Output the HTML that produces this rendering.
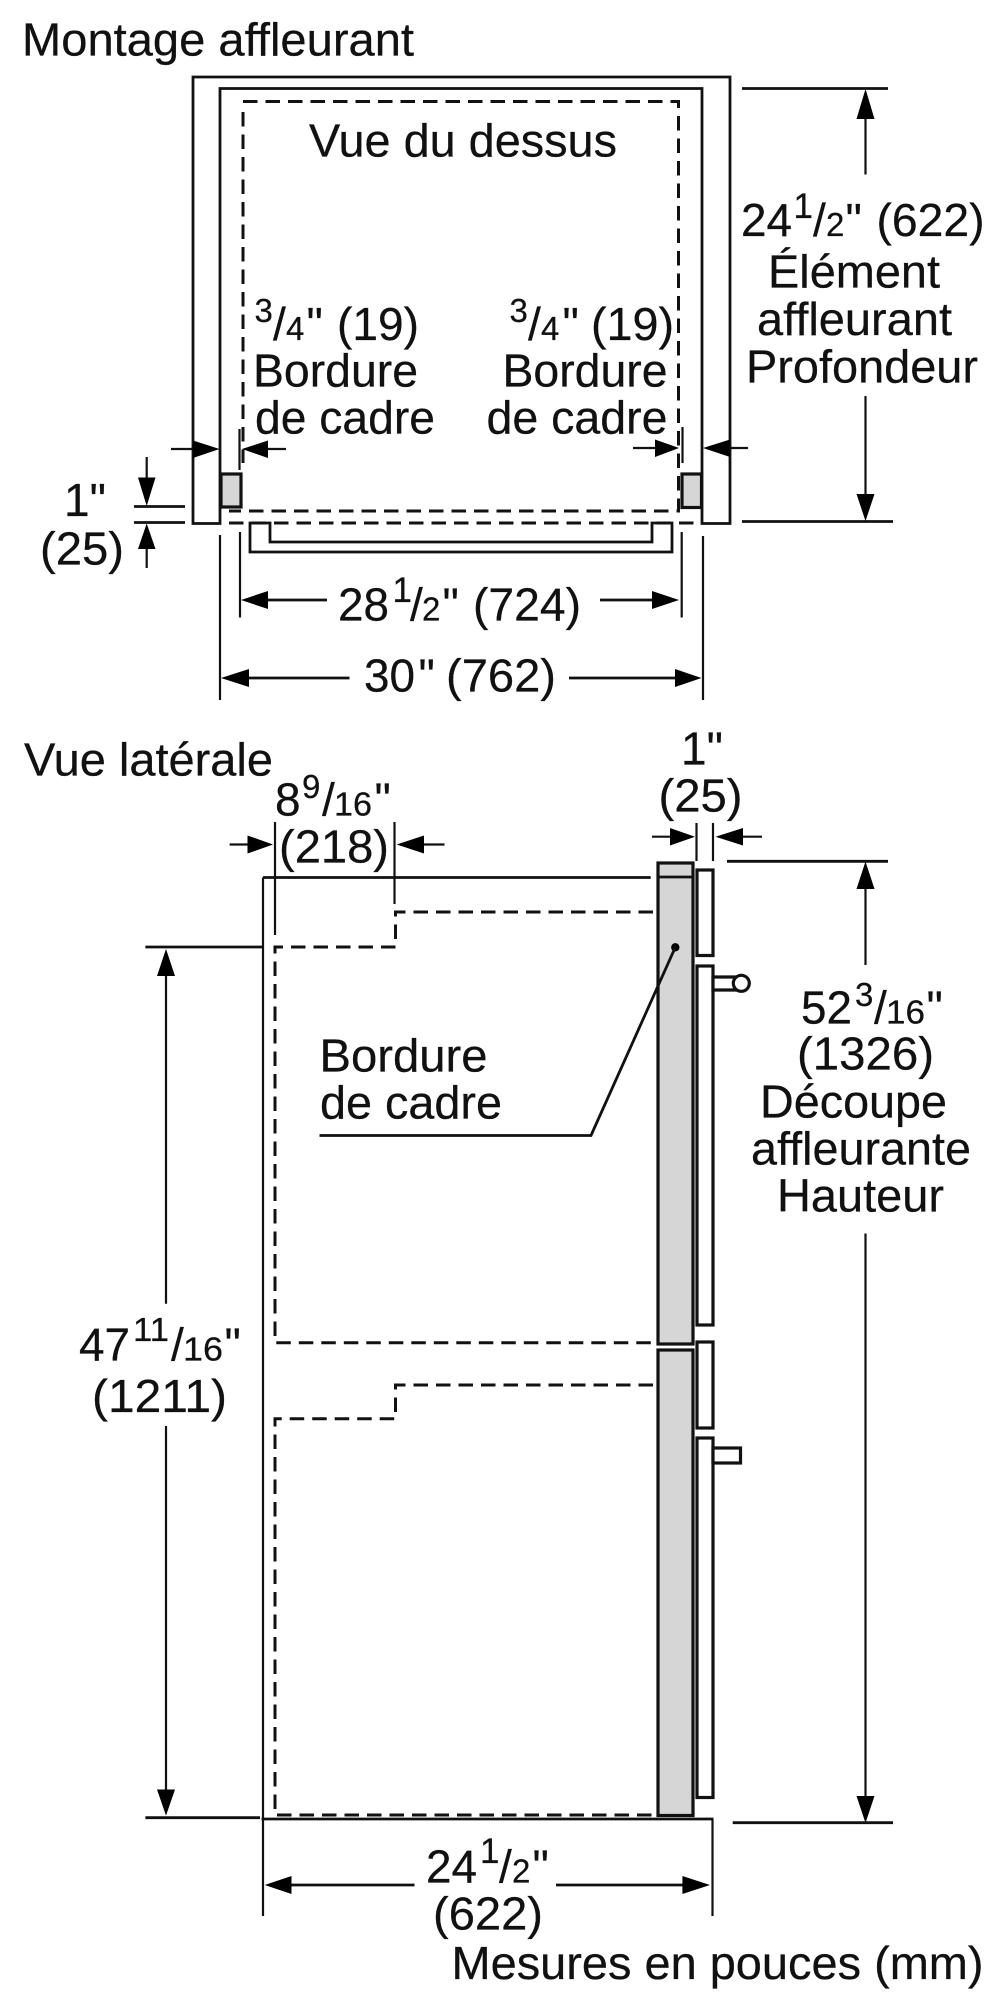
<!DOCTYPE html>
<html lang="fr">
<head>
<meta charset="utf-8">
<title>Montage affleurant</title>
<style>
html,body{margin:0;padding:0;background:#fff;width:1000px;height:2000px;overflow:hidden}
svg{display:block}
text{font-family:"Liberation Sans",sans-serif;font-size:46px;fill:#111;stroke:#111;stroke-width:.25}
text.s{font-size:33px}
text.o{font-size:35px}
text.b{font-size:33px}
.l{fill:none;stroke:#111;stroke-width:2.8}
.t{fill:none;stroke:#111;stroke-width:2.2}
.d{fill:none;stroke:#111;stroke-width:3;stroke-dasharray:14.5 8}
.g{fill:#d6d6d6;stroke:#111;stroke-width:3.2}
.w{fill:#fff;stroke:#111;stroke-width:3.2}
polygon{fill:#000}
</style>
</head>
<body>
<svg width="1000" height="2000" viewBox="0 0 1000 2000" xmlns="http://www.w3.org/2000/svg">
<!-- TOP VIEW -->
<path class="l" d="M193 523.5V77H730V523.5H702V88.5H220V523.5Z"/>
<path class="d" d="M243 101.5H678.5V511H229"/>
<path class="d" d="M243 112V463"/>
<path class="d" d="M229 523H696"/>
<rect class="g" x="221" y="474" width="20" height="33"/>
<rect class="g" x="682" y="474" width="19.5" height="33.5"/>
<path class="l" d="M250 523H270V542H652V523H672V552H250Z"/>

<!-- right depth dim -->
<path class="l" d="M742 88.5H888M742 521.5H893"/>
<path class="t" d="M865.5 100V174.5M865.5 396V510"/>
<polygon points="865.5,89 856.5,119 874.5,119"/>
<polygon points="865.5,521 856.5,494 874.5,494"/>

<!-- 1" left dim -->
<path class="l" d="M134 506.5H185M134 522.5H185"/>
<path class="t" d="M146.7 457V490M146.7 540V568"/>
<polygon points="146.7,506 138,477.5 155.5,477.5"/>
<polygon points="146.7,523.5 138,549 155.5,549"/>

<!-- arrows at 449 -->
<path class="t" d="M171 449H200M260 449H286M633 448H665M720 448H748"/>
<polygon points="219.5,449 193,440.5 193,458"/>
<polygon points="242,449 268,440.5 268,458"/>
<polygon points="679,448 655,439.5 655,457"/>
<polygon points="703,448 730,439.5 730,457"/>
<path class="t" d="M239.5 429V470M682.5 427V463"/>

<!-- extension lines below -->
<path class="t" d="M220 535V700M240 532V617.5M681.7 532V617.5M703 536V700"/>
<path class="l" d="M255 600H327M600 600H665M235 678H349.5M569 678H688"/>
<polygon points="241,600 268,591 268,609"/>
<polygon points="679,600 652,591 652,609"/>
<polygon points="221,678 249,669 249,687"/>
<polygon points="701.5,678 675,669 675,687"/>

<!-- SIDE VIEW -->
<path class="l" d="M263 877.5H650.7"/>
<path class="t" d="M263 877.5V1916M712.5 1819V1916"/>
<path class="l" d="M261.5 1819H713.5"/>
<path class="t" d="M275 822V935M394.5 822V904"/>
<path class="d" d="M653 912H395.5V947H275V1342.7H657"/>
<path class="d" d="M653 1385H395.5V1418.7H275V1815H657"/>

<rect class="g" x="658" y="863" width="35" height="481"/>
<path class="l" d="M658 877H693"/>
<rect class="g" x="658" y="1350" width="35" height="465.5"/>
<rect class="w" x="697" y="870" width="16" height="85.5"/>
<rect class="w" x="697" y="966" width="16" height="359"/>
<rect class="w" x="697" y="1342" width="16" height="86"/>
<rect class="w" x="697" y="1438" width="16" height="359.5"/>
<path class="w" d="M713 977H740V990H713Z"/>
<circle class="w" cx="741.3" cy="983.3" r="8"/>
<rect class="w" x="713" y="1448" width="27.5" height="15"/>

<!-- leader -->
<circle cx="675.3" cy="947.3" r="4.2" fill="#000"/>
<path class="l" d="M675.3 947.3L591 1135.5H319.5"/>

<!-- 8 9/16 -->
<path class="t" d="M229.6 844.5H255M410 844.5H444.5M652 836.7H680M730 836.7H762"/>
<polygon points="273,844.5 247.5,835.5 247.5,853.5"/>
<polygon points="396.7,844.5 424,835.5 424,853.5"/>
<polygon points="695,836.7 670,828 670,845.5"/>
<polygon points="715.5,836.7 743,828 743,845.5"/>
<path class="t" d="M696.5 823V861M713 823V861"/>

<!-- height dims -->
<path class="l" d="M727 861.3H888M732.7 1822.7H893M145.4 947H263M145.4 1817.7H260"/>
<path class="t" d="M865.5 875V965M865.5 1233.5V1805M166 960V1303.7M166 1426V1800"/>
<polygon points="865.5,861.5 856.5,889 874.5,889"/>
<polygon points="865.5,1823 856.5,1796 874.5,1796"/>
<polygon points="166,949 157,976 175,976"/>
<polygon points="166,1815.6 157,1789.5 175,1789.5"/>

<!-- bottom dim -->
<path class="l" d="M280 1885H414.5M556 1885H695"/>
<polygon points="264.7,1885 291.5,1876 291.5,1894"/>
<polygon points="710,1885 682.4,1876 682.4,1894"/>

<!-- TEXT top -->
<text x="22" y="55.5" textLength="392" lengthAdjust="spacingAndGlyphs">Montage affleurant</text>
<text x="309" y="156.5" textLength="308" lengthAdjust="spacingAndGlyphs">Vue du dessus</text>
<text x="741" y="236" textLength="51" lengthAdjust="spacingAndGlyphs">24</text>
<text class="o" x="793.5" y="218">1</text>
<text x="813" y="236">/</text>
<text class="b" x="826" y="236">2</text>
<text x="845.5" y="236">"</text>
<text x="876.5" y="236" textLength="108" lengthAdjust="spacingAndGlyphs">(622)</text>
<text x="768" y="287.5" textLength="172" lengthAdjust="spacingAndGlyphs">Élément</text>
<text x="757" y="335" textLength="195" lengthAdjust="spacingAndGlyphs">affleurant</text>
<text x="746" y="382.5" textLength="232" lengthAdjust="spacingAndGlyphs">Profondeur</text>

<text class="s" x="254.5" y="322">3</text>
<text x="273" y="340">/</text>
<text class="b" x="286" y="340">4</text>
<text x="306.5" y="340">"</text>
<text x="337" y="340" textLength="82" lengthAdjust="spacingAndGlyphs">(19)</text>
<text x="253" y="386.5" textLength="165" lengthAdjust="spacingAndGlyphs">Bordure</text>
<text x="255" y="433.5" textLength="180" lengthAdjust="spacingAndGlyphs">de cadre</text>

<text class="s" x="509.5" y="322">3</text>
<text x="528" y="340">/</text>
<text class="b" x="541" y="340">4</text>
<text x="562.5" y="340">"</text>
<text x="591" y="340" textLength="83" lengthAdjust="spacingAndGlyphs">(19)</text>
<text x="502.5" y="386.5" textLength="165" lengthAdjust="spacingAndGlyphs">Bordure</text>
<text x="486.5" y="433.5" textLength="181" lengthAdjust="spacingAndGlyphs">de cadre</text>

<text x="64" y="516">1"</text>
<text x="40" y="564.5" textLength="84" lengthAdjust="spacingAndGlyphs">(25)</text>

<text x="338" y="620.5" textLength="51" lengthAdjust="spacingAndGlyphs">28</text>
<text class="o" x="392.5" y="602">1</text>
<text x="410" y="620.5">/</text>
<text class="b" x="422" y="620.5">2</text>
<text x="442.5" y="620.5">"</text>
<text x="473" y="620.5" textLength="108" lengthAdjust="spacingAndGlyphs">(724)</text>

<text x="364" y="691.5" textLength="51" lengthAdjust="spacingAndGlyphs">30</text>
<text x="418.5" y="691.5">"</text>
<text x="446" y="691.5" textLength="110" lengthAdjust="spacingAndGlyphs">(762)</text>

<!-- TEXT side -->
<text x="24" y="775.5" textLength="249" lengthAdjust="spacingAndGlyphs">Vue latérale</text>
<text x="275" y="815.5">8</text>
<text class="s" x="302" y="798">9</text>
<text x="322" y="815.5">/</text>
<text class="b" x="334" y="815.5" textLength="38" lengthAdjust="spacingAndGlyphs">16</text>
<text x="374.5" y="815.5">"</text>
<text x="279" y="862.5" textLength="110" lengthAdjust="spacingAndGlyphs">(218)</text>

<text x="681" y="764.5">1"</text>
<text x="658.5" y="811.5" textLength="84" lengthAdjust="spacingAndGlyphs">(25)</text>

<text x="801" y="1023.5" textLength="51" lengthAdjust="spacingAndGlyphs">52</text>
<text class="s" x="855" y="1006">3</text>
<text x="874" y="1023.5">/</text>
<text class="b" x="886" y="1023.5" textLength="39" lengthAdjust="spacingAndGlyphs">16</text>
<text x="926.5" y="1023.5">"</text>
<text x="797" y="1069.5" textLength="137" lengthAdjust="spacingAndGlyphs">(1326)</text>
<text x="760" y="1117.5" textLength="187" lengthAdjust="spacingAndGlyphs">Découpe</text>
<text x="751" y="1164.5" textLength="220" lengthAdjust="spacingAndGlyphs">affleurante</text>
<text x="777" y="1211.5" textLength="167" lengthAdjust="spacingAndGlyphs">Hauteur</text>

<text x="319.5" y="1071.5" textLength="168" lengthAdjust="spacingAndGlyphs">Bordure</text>
<text x="320" y="1118.5" textLength="182" lengthAdjust="spacingAndGlyphs">de cadre</text>

<text x="79" y="1360.5" textLength="51" lengthAdjust="spacingAndGlyphs">47</text>
<text class="s" x="133" y="1341" textLength="36" lengthAdjust="spacingAndGlyphs">11</text>
<text x="171" y="1360.5">/</text>
<text class="b" x="183" y="1360.5" textLength="40" lengthAdjust="spacingAndGlyphs">16</text>
<text x="224.5" y="1360.5">"</text>
<text x="92" y="1412" textLength="135" lengthAdjust="spacingAndGlyphs">(1211)</text>

<text x="426" y="1882.5" textLength="51" lengthAdjust="spacingAndGlyphs">24</text>
<text class="o" x="480" y="1863">1</text>
<text x="499" y="1882.5">/</text>
<text class="b" x="512" y="1882.5">2</text>
<text x="532.5" y="1882.5">"</text>
<text x="433" y="1929.5" textLength="110" lengthAdjust="spacingAndGlyphs">(622)</text>
<text x="451.5" y="1979" textLength="532" lengthAdjust="spacingAndGlyphs">Mesures en pouces (mm)</text>
</svg>
</body>
</html>
